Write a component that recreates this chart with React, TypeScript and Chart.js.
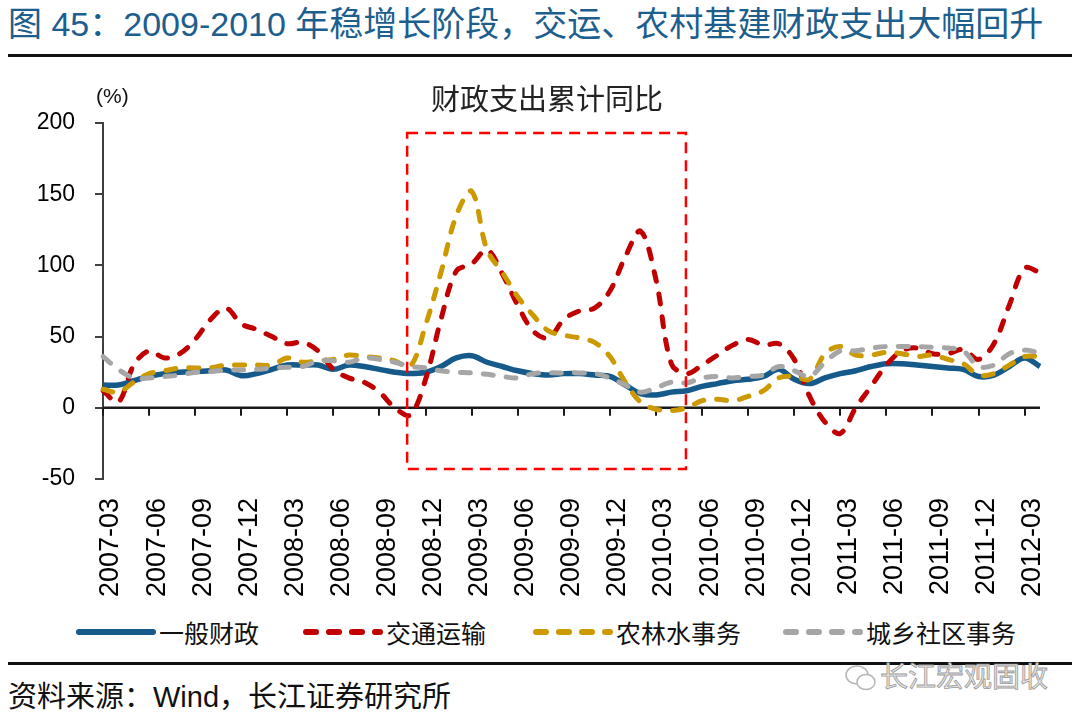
import React, { useEffect, useRef } from "react";
import { Chart, registerables } from "chart.js";

Chart.register(...registerables);

const MONTHS = [
  "2007-03", "2007-04", "2007-05", "2007-06", "2007-07", "2007-08", "2007-09", "2007-10", "2007-11", "2007-12",
  "2008-01", "2008-02", "2008-03", "2008-04", "2008-05", "2008-06", "2008-07", "2008-08", "2008-09", "2008-10",
  "2008-11", "2008-12", "2009-01", "2009-02", "2009-03", "2009-04", "2009-05", "2009-06", "2009-07", "2009-08",
  "2009-09", "2009-10", "2009-11", "2009-12", "2010-01", "2010-02", "2010-03", "2010-04", "2010-05", "2010-06",
  "2010-07", "2010-08", "2010-09", "2010-10", "2010-11", "2010-12", "2011-01", "2011-02", "2011-03", "2011-04",
  "2011-05", "2011-06", "2011-07", "2011-08", "2011-09", "2011-10", "2011-11", "2011-12", "2012-01", "2012-02",
  "2012-03", "2012-04",
];

// 一般财政
const GENERAL = [
  16, 16, 19, 22, 24, 25, 25.5, 26, 26.5, 22.5,
  24, 27, 30, 30, 30, 27, 30, 29, 27, 25,
  24, 25, 29, 35, 36.5, 32, 29, 26, 24, 23,
  24, 24, 23, 22, 16, 10, 9, 11, 12, 15,
  17, 19, 20, 22, 27, 20, 17, 21, 24, 26,
  29, 31, 31, 30, 29, 28, 27, 22, 23, 29,
  35, 29,
];

// 交通运输
const TRANSPORT = [
  12, 4, 30, 40, 35, 38, 48, 62, 70, 59,
  55, 50, 45, 46, 40, 27, 21, 18, 11, 0,
  -5, 20, 62, 96, 101, 111, 94, 72, 54, 49,
  62, 68, 70, 82, 106, 124, 90, 31, 24, 30,
  37, 44, 48, 44, 45, 34, 8, -10, -18, 0,
  15, 30, 40, 42, 38, 38, 41, 34, 45, 72,
  98, 95,
];

// 农林水事务
const AGRI = [
  13, 11, 18, 24, 26, 28, 28, 28, 30, 30,
  30, 30, 35, 32, 33, 34, 37, 36, 35, 33,
  29, 58, 95, 135, 152, 111, 95, 78, 65, 54,
  51, 49, 46, 36, 18, 4, -1, -2, 0, 5,
  6, 5, 8, 12, 21, 22, 20, 38, 43, 37,
  37, 39, 38, 36, 37, 34, 31, 23, 24, 30,
  36, 36,
];

// 城乡社区事务
const URBAN = [
  36, 27, 21, 21, 22, 23, 25, 25.5, 26.5, 26.5,
  27, 28, 28.5, 29, 33, 33, 32, 35, 34, 32,
  29, 28, 26, 25, 24.5, 23.5, 22, 21, 24, 24.5,
  24.5, 24.5, 24, 21, 16, 11, 14, 18, 17.5, 21,
  22, 21, 22, 23, 29, 26, 22, 32, 40, 40,
  42, 43, 43, 43, 42.5, 42, 40, 29, 30, 38,
  40.5, 38.5,
];

const SERIES_NAMES = ["一般财政", "交通运输", "农林水事务", "城乡社区事务"];
const Y_TICKS = [-50, 0, 50, 100, 150, 200];

// highlighted period (category index / value units)
const HIGHLIGHT_FROM = 19.8;
const HIGHLIGHT_TO = 37.95;
const HIGHLIGHT_TOP = 193;
const HIGHLIGHT_BOTTOM = -43;

const COLORS = ["#155A8A", "#C00000", "#CC9900", "#A6A6A6"];
const LATIN = '"Liberation Sans", Arial, "Noto Sans CJK SC", sans-serif';
const CJK = '"Liberation Sans", "Noto Sans CJK SC", sans-serif';

const overlayPlugin = {
  id: "overlay",
  beforeDatasetsDraw(chart: any) {
    const { ctx, chartArea, scales } = chart;
    const x = scales.x;
    const y = scales.y;
    const y0 = y.getPixelForValue(0);
    ctx.save();
    ctx.strokeStyle = "#1a1a1a";
    ctx.lineWidth = 2.5;
    ctx.beginPath();
    ctx.moveTo(chartArea.left, y0);
    ctx.lineTo(chartArea.right, y0);
    ctx.stroke();
    ctx.lineWidth = 2;
    for (let i = 0; i < MONTHS.length; i += 3) {
      const px = Math.round(x.getPixelForValue(i));
      ctx.beginPath();
      ctx.moveTo(px, y0);
      ctx.lineTo(px, y0 + 8);
      ctx.stroke();
    }
    ctx.restore();
  },
  afterDatasetsDraw(chart: any) {
    const { ctx, scales } = chart;
    const x = scales.x;
    const y = scales.y;
    const l = x.getPixelForValue(HIGHLIGHT_FROM);
    const r = x.getPixelForValue(HIGHLIGHT_TO);
    const t = y.getPixelForValue(HIGHLIGHT_TOP);
    const b = y.getPixelForValue(HIGHLIGHT_BOTTOM);
    ctx.save();
    ctx.strokeStyle = "#FF0000";
    ctx.lineWidth = 2.5;
    ctx.setLineDash([11, 7]);
    ctx.strokeRect(l, t, r - l, b - t);
    ctx.restore();
  },
};

function LegendItem({ left, color, dashed, label }: any) {
  return (
    <div style={{ position: "absolute", left, top: 614, height: 36, display: "flex", alignItems: "center" }}>
      <svg width={80} height={12} style={{ display: "block" }}>
        <line
          x1={3}
          y1={6}
          x2={77}
          y2={6}
          stroke={color}
          strokeWidth={6}
          strokeLinecap="round"
          strokeDasharray={dashed ? "10 13" : undefined}
        />
      </svg>
      <span style={{ fontFamily: CJK, fontSize: 25, color: "#111", marginLeft: 3, whiteSpace: "nowrap" }}>{label}</span>
    </div>
  );
}

export default function App() {
  const ref = useRef<HTMLCanvasElement | null>(null);

  useEffect(() => {
    if (!ref.current) return;
    const data = [GENERAL, TRANSPORT, AGRI, URBAN];
    const chart = new Chart(ref.current, {
      type: "line",
      data: {
        labels: MONTHS,
        datasets: data.map((d, i) => ({
          label: SERIES_NAMES[i],
          data: d,
          borderColor: COLORS[i],
          backgroundColor: COLORS[i],
          borderWidth: i === 0 ? 5.5 : 5,
          borderDash: i === 0 ? [] : [10, 13],
          borderCapStyle: i === 0 ? "butt" : "round",
          borderJoinStyle: "round",
          pointRadius: 0,
          tension: 0.35,
          fill: false,
          order: 3 - i,
        })),
      },
      options: {
        responsive: false,
        animation: false,
        layout: { padding: { top: 63, right: 40, left: 0, bottom: 0 } },
        plugins: {
          legend: { display: false },
          title: { display: false },
          tooltip: { enabled: false },
        },
        scales: {
          x: {
            type: "category",
            offset: false,
            grid: { display: false, drawTicks: false },
            border: { display: false },
            ticks: {
              autoSkip: false,
              minRotation: 90,
              maxRotation: 90,
              padding: 19,
              labelOffset: 8,
              color: "#000",
              font: { family: LATIN, size: 27 },
              callback: (_v: any, idx: number) => (idx % 3 === 0 && idx <= 60 ? MONTHS[idx] : ""),
            },
            afterFit: (s: any) => {
              s.height = 126;
              s.paddingLeft = 0;
              s.paddingRight = 0;
            },
          },
          y: {
            min: -50,
            max: 200,
            afterBuildTicks: (s: any) => {
              s.ticks = Y_TICKS.map((v) => ({ value: v }));
            },
            ticks: {
              padding: 20,
              color: "#000",
              font: { family: LATIN, size: 23 },
            },
            grid: { drawOnChartArea: false, drawTicks: true, tickLength: 8, color: "#404040", lineWidth: 2 },
            border: { display: true, color: "#404040", width: 2 },
            afterFit: (s: any) => {
              s.width = 103;
            },
          },
        },
      },
      plugins: [overlayPlugin],
    } as any);
    return () => chart.destroy();
  }, []);

  return (
    <div style={{ position: "fixed", left: 0, top: 0, width: 1080, height: 725, background: "#fff", overflow: "hidden" }}>
      <div
        style={{
          position: "absolute",
          left: 8,
          top: 2,
          fontFamily: CJK,
          fontSize: 34,
          lineHeight: "44px",
          color: "#1C5E8E",
          whiteSpace: "nowrap",
        }}
      >
        图 45：2009-2010 年稳增长阶段，交运、农村基建财政支出大幅回升
      </div>
      <div style={{ position: "absolute", left: 8, top: 54, width: 1064, height: 3, background: "#111" }} />

      <canvas ref={ref} width={1080} height={545} style={{ position: "absolute", left: 0, top: 60, width: 1080, height: 545 }} />

      <div
        style={{
          position: "absolute",
          left: 0,
          width: 1094,
          top: 80,
          textAlign: "center",
          fontFamily: CJK,
          fontSize: 29,
          lineHeight: "40px",
          color: "#222",
        }}
      >
        财政支出累计同比
      </div>
      <div style={{ position: "absolute", left: 96, top: 83, fontFamily: LATIN, fontSize: 21, lineHeight: "26px", color: "#111" }}>
        (%)
      </div>

      <LegendItem left={76} color={COLORS[0]} dashed={false} label={SERIES_NAMES[0]} />
      <LegendItem left={303} color={COLORS[1]} dashed={true} label={SERIES_NAMES[1]} />
      <LegendItem left={533} color={COLORS[2]} dashed={true} label={SERIES_NAMES[2]} />
      <LegendItem left={783} color={COLORS[3]} dashed={true} label={SERIES_NAMES[3]} />

      <div style={{ position: "absolute", left: 8, top: 662, width: 1064, height: 3, background: "#111" }} />

      <svg width={36} height={34} style={{ position: "absolute", left: 843, top: 661 }}>
        <ellipse cx={14} cy={14} rx={11} ry={9} fill="none" stroke="#b5b5b5" strokeWidth={1.5} />
        <ellipse cx={23} cy={21} rx={9} ry={7.5} fill="#fff" stroke="#b5b5b5" strokeWidth={1.5} />
      </svg>
      <div
        style={{
          position: "absolute",
          left: 880,
          top: 660,
          fontFamily: CJK,
          fontSize: 28,
          lineHeight: "36px",
          color: "#e6e6e6",
          WebkitTextStroke: "0.8px #9a9a9a",
          whiteSpace: "nowrap",
        }}
      >
        长江宏观固收
      </div>

      <div
        style={{
          position: "absolute",
          left: 8,
          top: 678,
          fontFamily: CJK,
          fontSize: 29,
          lineHeight: "38px",
          color: "#111",
          whiteSpace: "nowrap",
        }}
      >
        资料来源：Wind，长江证券研究所
      </div>
    </div>
  );
}
